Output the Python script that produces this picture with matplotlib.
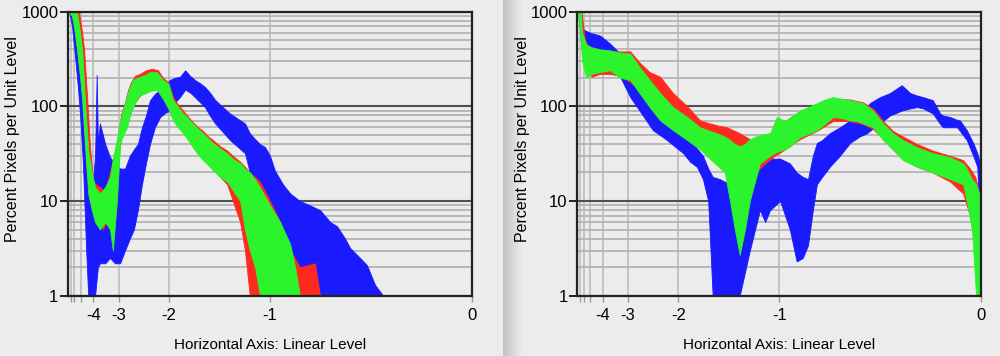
import numpy as np
import matplotlib
matplotlib.use('Agg')
import matplotlib.pyplot as plt

plt.rcParams['font.family'] = ['Liberation Sans', 'DejaVu Sans']

# x values are linear level (0..1), y values are percent pixels per unit level
# each channel is given as a lower and upper envelope of the noisy histogram

# ---- left panel ----
left_red_x = [0.001, 0.012, 0.020, 0.027, 0.035, 0.040, 0.047, 0.054, 0.062, 0.069,
              0.079, 0.087, 0.094, 0.104, 0.114, 0.124, 0.131, 0.141, 0.149, 0.156,
              0.166, 0.178, 0.193, 0.208, 0.223, 0.235, 0.248, 0.260, 0.272, 0.285,
              0.297, 0.309, 0.322, 0.334, 0.347, 0.359, 0.376, 0.394, 0.408, 0.426,
              0.438, 0.450, 0.475, 0.500, 0.525, 0.550, 0.574, 0.611, 0.624]
left_red_lo = [1000, 900, 600, 350, 180, 100, 40, 14, 8, 7,
               6, 5, 6, 7, 8, 25, 45, 60, 70, 90,
               110, 130, 140, 150, 150, 125, 100, 75, 62, 55,
               46, 38, 33, 28, 25, 22, 18, 15, 10, 6,
               3, 1, 1, 1, 1, 1, 1, 1, 1]
left_red_hi = [1500, 1500, 1200, 1000, 600, 390, 130, 40, 16, 15,
               14, 13, 14, 20, 30, 50, 80, 110, 150, 180,
               210, 220, 240, 250, 240, 200, 180, 125, 105, 90,
               78, 68, 60, 55, 48, 44, 38, 34, 30, 26,
               23, 20, 16, 10, 6, 3, 2, 2.2, 1]

left_green_x = [0.001, 0.010, 0.017, 0.022, 0.030, 0.035, 0.042, 0.050, 0.059, 0.067,
                0.079, 0.092, 0.104, 0.111, 0.121, 0.129, 0.139, 0.146, 0.153, 0.161,
                0.171, 0.178, 0.191, 0.203, 0.220, 0.235, 0.248, 0.260, 0.272, 0.285,
                0.297, 0.309, 0.322, 0.334, 0.347, 0.359, 0.376, 0.394, 0.408, 0.426,
                0.438, 0.450, 0.463, 0.475, 0.500, 0.525, 0.550, 0.562, 0.574]
left_green_lo = [1000, 900, 600, 400, 200, 120, 40, 12, 8, 6,
                 5, 6, 5, 3, 10, 41, 52, 60, 80, 98,
                 120, 130, 138, 145, 150, 120, 95, 71, 60, 52,
                 44, 37, 31, 27, 24, 21, 18, 16, 13, 10,
                 5, 3, 2, 1, 1, 1, 1, 1, 1]
left_green_hi = [1500, 1500, 1200, 1000, 600, 390, 116, 35, 20, 14,
                 12, 14, 18, 28, 44, 71, 100, 130, 160, 190,
                 200, 205, 215, 230, 230, 190, 175, 116, 100, 84,
                 75, 66, 58, 52, 46, 41, 36, 32, 28, 25,
                 22, 20, 17, 14, 9, 6, 3.5, 2, 1]

left_blue_x = [0.001, 0.005, 0.010, 0.017, 0.025, 0.030, 0.037, 0.045, 0.050, 0.059,
               0.067, 0.071, 0.074, 0.079, 0.092, 0.104, 0.116, 0.129, 0.141, 0.153,
               0.163, 0.173, 0.183, 0.193, 0.203, 0.215, 0.228, 0.240, 0.252, 0.265,
               0.277, 0.290, 0.302, 0.314, 0.327, 0.339, 0.351, 0.364, 0.381, 0.401,
               0.418, 0.438, 0.450, 0.463, 0.475, 0.488, 0.500, 0.512, 0.532, 0.550,
               0.574, 0.599, 0.624, 0.649, 0.666, 0.686, 0.698, 0.723, 0.740, 0.760,
               0.780]
left_blue_lo = [1000, 900, 700, 350, 150, 80, 25, 3, 1, 1,
                1, 1.5, 2, 2.2, 2.2, 2.5, 2.2, 2.2, 3, 4,
                5, 8, 15, 25, 40, 60, 77, 85, 90, 110,
                125, 150, 140, 125, 110, 98, 80, 66, 55, 44,
                38, 32, 20, 14, 10, 5, 3, 1, 1, 1,
                1, 1, 1, 1, 1, 1, 1, 1, 1, 1,
                1]
left_blue_hi = [1500, 1500, 1200, 700, 450, 250, 70, 20, 15, 12,
                30, 214, 40, 66, 40, 29, 25, 22, 22, 30,
                35, 40, 60, 80, 116, 135, 150, 170, 190, 200,
                205, 240, 210, 190, 175, 160, 140, 117, 100, 84,
                75, 66, 52, 45, 40, 37, 30, 21, 15, 12,
                10, 9, 8, 6, 5.4, 4, 3.2, 2.5, 2.1, 1.3,
                1]

# ---- right panel ----
right_red_x = [0.001, 0.007, 0.012, 0.019, 0.036, 0.056, 0.081, 0.106, 0.131, 0.154,
               0.179, 0.205, 0.237, 0.272, 0.304, 0.328, 0.353, 0.370, 0.402, 0.427,
               0.445, 0.465, 0.489, 0.514, 0.551, 0.593, 0.633, 0.675, 0.707, 0.732,
               0.757, 0.781, 0.806, 0.841, 0.880, 0.923, 0.955, 0.972, 0.985, 0.995,
               1.000]
right_red_lo = [1000, 700, 400, 250, 205, 220, 220, 210, 180, 150,
                110, 85, 65, 50, 40, 35, 30, 25, 21, 20,
                21, 25, 30, 35, 45, 55, 70, 70, 65, 58,
                45, 35, 28, 23, 20, 16, 12, 7, 3, 1,
                1]
right_red_hi = [1500, 1300, 870, 500, 350, 360, 380, 380, 380, 290,
                230, 205, 138, 100, 71, 66, 62, 60, 52, 45,
                41, 45, 55, 70, 88, 105, 120, 118, 110, 95,
                70, 55, 48, 40, 34, 30, 27, 22, 18, 12,
                5]

right_green_x = [0.001, 0.007, 0.012, 0.022, 0.036, 0.056, 0.081, 0.106, 0.131, 0.154,
                 0.179, 0.205, 0.237, 0.272, 0.304, 0.328, 0.345, 0.365, 0.378, 0.390,
                 0.402, 0.415, 0.427, 0.452, 0.477, 0.494, 0.514, 0.534, 0.551, 0.576,
                 0.593, 0.613, 0.633, 0.655, 0.675, 0.692, 0.707, 0.732, 0.757, 0.781,
                 0.806, 0.841, 0.880, 0.923, 0.955, 0.964, 0.977, 0.987, 0.995, 1.000]
right_green_lo = [1000, 600, 300, 200, 220, 230, 240, 200, 190, 138,
                  98, 71, 56, 44, 35, 28, 24, 20, 10, 5,
                  2.7, 5, 10, 25, 30, 33, 35, 40, 47, 52,
                  56, 65, 77, 75, 71, 70, 66, 60, 44, 35,
                  27, 23, 20, 17, 15, 10, 5, 1, 1, 1]
right_green_hi = [1500, 1200, 600, 450, 420, 400, 390, 370, 360, 260,
                  190, 138, 98, 77, 60, 55, 52, 48, 44, 40,
                  38, 40, 45, 50, 52, 77, 70, 80, 90, 100,
                  108, 118, 125, 120, 116, 112, 108, 90, 66, 52,
                  44, 37, 32, 29, 25, 22, 17, 15, 12, 5]

right_blue_x = [0.001, 0.004, 0.009, 0.014, 0.031, 0.056, 0.081, 0.106, 0.131, 0.154,
                0.187, 0.222, 0.247, 0.262, 0.279, 0.296, 0.311, 0.324, 0.335, 0.353,
                0.378, 0.402, 0.427, 0.452, 0.465, 0.477, 0.502, 0.526, 0.543, 0.558,
                0.571, 0.583, 0.593, 0.606, 0.625, 0.650, 0.675, 0.699, 0.717, 0.724,
                0.749, 0.774, 0.803, 0.824, 0.841, 0.856, 0.880, 0.898, 0.905, 0.923,
                0.940, 0.947, 0.964, 0.980, 0.990, 0.997, 1.000]
right_blue_lo = [1000, 800, 500, 300, 280, 285, 230, 205, 125, 90,
                 56, 44, 36, 32, 26, 23, 17, 10, 1, 1,
                 1, 1, 3, 8, 6, 8, 10, 5, 2.3, 2.5,
                 3.4, 8, 15, 18, 23, 30, 41, 48, 52, 55,
                 66, 80, 90, 95, 98, 95, 84, 65, 60, 60,
                 60, 55, 44, 30, 23, 5, 1]
right_blue_hi = [1500, 1500, 1000, 650, 600, 560, 460, 360, 230, 140,
                 90, 77, 60, 55, 44, 36, 30, 22, 18, 17,
                 15, 14, 17, 22, 25, 28, 28, 25, 20, 18,
                 17, 30, 41, 44, 52, 60, 71, 84, 98, 108,
                 125, 138, 167, 138, 130, 125, 116, 84, 80, 77,
                 72, 71, 56, 41, 32, 25, 10]

ev_ticks = [-4, -3, -2, -1, 0]
ev_minor = [-7, -6, -5]
y_ticks = [1, 10, 100, 1000]

red = '#ff2a1f'
green = '#2cf42c'
blue = '#1a1aff'
bg = '#ececec'


def draw_panel(ax, channels):
	ax.set_facecolor(bg)
	for x, lo, hi, c in channels:
		ax.fill_between(x, lo, hi, color=c, lw=0.6, edgecolor=c)
	ax.set_yscale('log')
	ax.set_ylim(1, 1000)
	ax.set_xlim(0, 1)
	ax.set_yticks(y_ticks, [str(v) for v in y_ticks])
	ax.set_xticks([2.0 ** e for e in ev_ticks], [str(e) for e in ev_ticks])
	ax.set_xticks([2.0 ** e for e in ev_minor], minor=True)
	ax.set_axisbelow(True)
	ax.yaxis.grid(True, which='minor', color='#b4b4b4', lw=1.3)
	ax.yaxis.grid(True, which='major', color='#505050', lw=1.5)
	ax.xaxis.grid(True, which='both', color='#b9b9b9', lw=1.1)
	ax.tick_params(axis='y', which='major', length=6, width=1.2, pad=1, labelsize=12)
	ax.tick_params(axis='y', which='minor', length=0)
	ax.tick_params(axis='x', which='both', length=4, width=1, color='#999999', pad=5, labelsize=12)
	for s in ax.spines.values():
		s.set_linewidth(1.6)
		s.set_color('#222222')
	ax.set_xlabel('Horizontal Axis: Linear Level', fontsize=11, labelpad=11)
	ax.set_ylabel('Percent Pixels per Unit Level', fontsize=11.5)
	ax.yaxis.set_label_coords(-0.118, 0.55)


fig = plt.figure(figsize=(10, 3.56), dpi=100, facecolor=bg)

# separator strip between the two windows
sep = fig.add_axes([0.503, 0, 0.02, 1])
sep.imshow(np.linspace(0.76, 0.93, 50)[None, :], cmap='gray', vmin=0, vmax=1,
           aspect='auto', extent=(0, 1, 0, 1))
sep.axis('off')

# blue is drawn first, red and green sit on top of it
ax1 = fig.add_axes([0.068, 0.1694, 0.404, 0.798])
draw_panel(ax1, [(left_blue_x, left_blue_lo, left_blue_hi, blue),
                 (left_red_x, left_red_lo, left_red_hi, red),
                 (left_green_x, left_green_lo, left_green_hi, green)])

ax2 = fig.add_axes([0.5773, 0.1694, 0.404, 0.798])
draw_panel(ax2, [(right_blue_x, right_blue_lo, right_blue_hi, blue),
                 (right_red_x, right_red_lo, right_red_hi, red),
                 (right_green_x, right_green_lo, right_green_hi, green)])

fig.savefig('out.png', dpi=100, facecolor=bg)
